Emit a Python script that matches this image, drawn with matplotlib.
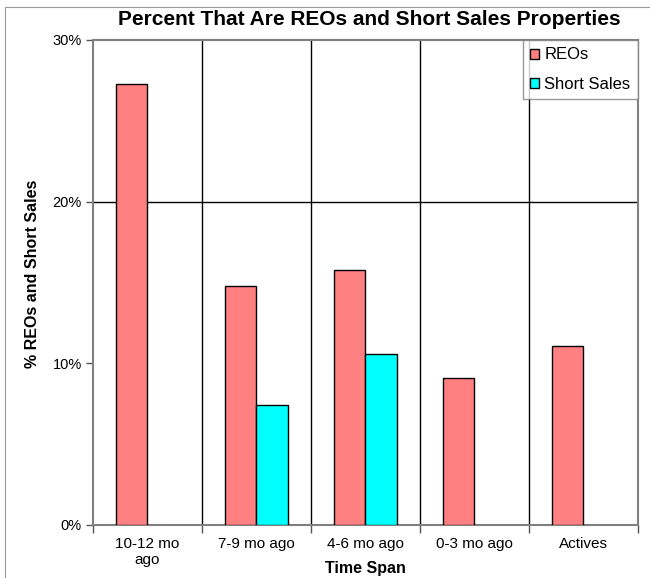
import numpy as np
import matplotlib
matplotlib.use("Agg")
import matplotlib.pyplot as plt
from matplotlib.patches import Rectangle

plt.rcParams['font.family'] = ['Liberation Sans', 'DejaVu Sans']

# ── Data ──────────────────────────────────────────────────────────────────────
categories = ['10-12 mo\nago', '7-9 mo ago', '4-6 mo ago', '0-3 mo ago', 'Actives']
reos = [27.3, 14.8, 15.8, 9.1, 11.1]
short_sales = [np.nan, 7.4, 10.55, np.nan, np.nan]
y_ticks = [0, 10, 20, 30]

REO_COLOR = '#FF8080'
SHORT_COLOR = '#00FFFF'

# ── Figure ────────────────────────────────────────────────────────────────────
fig = plt.figure(figsize=(6.5, 5.78), dpi=100)
ax = fig.add_axes([0.143, 0.0917, 0.9815 - 0.143, 0.9308 - 0.0917])

x = np.arange(len(categories))
w = 0.285
ax.bar(x - w / 2, reos, w, color=REO_COLOR, edgecolor='black', lw=1.0,
       label='REOs', zorder=3)
ax.bar(x + w / 2, short_sales, w, color=SHORT_COLOR, edgecolor='black', lw=1.0,
       label='Short Sales', zorder=3)

ax.set_xlim(-0.5, len(categories) - 0.5)
ax.set_ylim(0, 30)

# category boundaries as vertical gridlines + ticks
bounds = np.arange(len(categories) + 1) - 0.5
for b in bounds[1:-1]:
    ax.axvline(b, color='black', lw=1.0, zorder=1)
ax.axhline(20, color='black', lw=1.0, zorder=1)

ax.set_xticks(x)
ax.set_xticklabels(categories, fontsize=11, linespacing=1.1)
ax.tick_params(axis='x', which='major', length=0, pad=9)
ax.set_xticks(bounds, minor=True)
ax.tick_params(axis='x', which='minor', length=6, width=1, color='#555555')

ax.set_yticks(y_ticks)
ax.set_yticklabels([f'{v}%' for v in y_ticks], fontsize=10.5)
ax.tick_params(axis='y', length=5, width=1, color='#555555', pad=3)

for s in ax.spines.values():
    s.set_color('#808080')
    s.set_linewidth(1.5)

fig.text(0.568, 0.966, 'Percent That Are REOs and Short Sales Properties',
         fontsize=15, fontweight='bold', ha='center', va='center')
ax.set_ylabel('% REOs and Short Sales', fontsize=11.5, fontweight='bold')
ax.yaxis.set_label_coords(-0.098, 0.518)
ax.set_xlabel('Time Span', fontsize=11.5, fontweight='bold')
ax.xaxis.set_label_coords(0.5, -0.074)

leg = ax.legend(loc='upper right', fontsize=12, frameon=True, fancybox=False,
                handlelength=0.55, handleheight=0.55, handletextpad=0.3,
                borderpad=0.45, labelspacing=0.85, borderaxespad=0)
leg.get_frame().set_edgecolor('#808080')
leg.get_frame().set_linewidth(1.0)
leg.set_zorder(5)

# outer chart border
fig.patches.append(Rectangle((5 / 650, -0.02), 1.0, 1.0 - 7 / 578 + 0.02,
                             transform=fig.transFigure, fill=False,
                             edgecolor='#999999', lw=0.8))

fig.savefig('out.png', dpi=100)
